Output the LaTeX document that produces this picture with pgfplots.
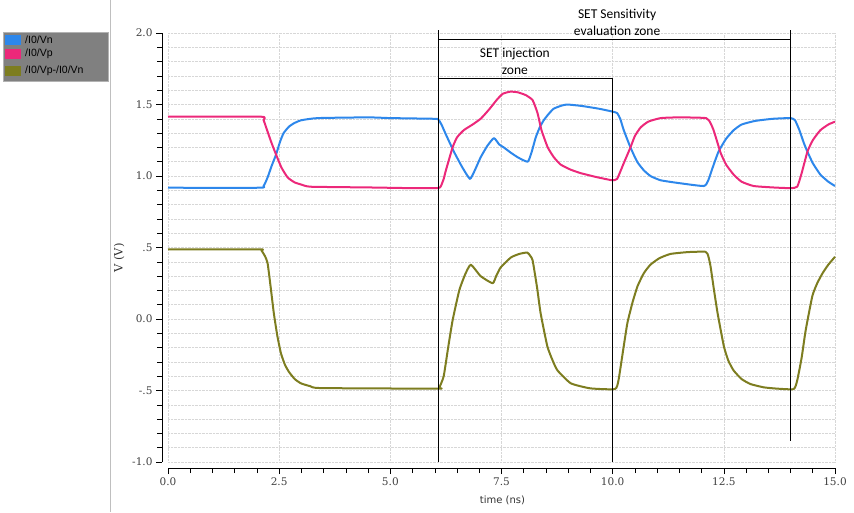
\documentclass[border=0pt]{standalone}
\usepackage{pgfplots}
\pgfplotsset{compat=1.18}
\usepackage{pgfplotstable}
\usepackage{fontspec}
\setmainfont{Carlito}
\newfontfamily\tickfont{DejaVu Serif}
\newfontfamily\legfont{Liberation Sans}
\newfontfamily\labfont{DejaVu Sans}
\definecolor{cvn}{RGB}{45,135,235}
\definecolor{cvp}{RGB}{236,40,122}
\definecolor{cdf}{RGB}{125,125,32}
\definecolor{gridc}{RGB}{215,215,215}

\pgfplotstableread{
t v
0 0.918
2.05 0.918
2.15 0.93
2.24 0.99
2.33 1.07
2.43 1.15
2.52 1.24
2.6 1.30
2.72 1.345
2.84 1.37
3.0 1.39
3.37 1.405
4.5 1.41
5.0 1.405
6.0 1.40
6.08 1.395
6.15 1.36
6.25 1.29
6.43 1.17
6.62 1.06
6.79 0.98
6.9 1.04
7.03 1.13
7.18 1.21
7.33 1.265
7.45 1.22
7.55 1.20
7.7 1.165
7.87 1.13
8.09 1.10
8.18 1.17
8.27 1.27
8.36 1.34
8.45 1.39
8.55 1.43
8.67 1.47
8.83 1.49
8.97 1.50
9.3 1.49
9.7 1.47
10.0 1.45
10.1 1.44
10.17 1.40
10.25 1.32
10.4 1.20
10.55 1.10
10.7 1.04
10.85 1.00
11.08 0.97
11.5 0.95
12.05 0.93
12.15 0.97
12.25 1.06
12.38 1.17
12.55 1.26
12.72 1.32
12.9 1.36
13.2 1.385
13.6 1.40
14.0 1.405
14.1 1.39
14.2 1.32
14.3 1.23
14.38 1.17
14.5 1.09
14.67 1.01
14.85 0.96
15.0 0.93
}\vn

\pgfplotstableread{
t v
0 1.415
2.08 1.415
2.15 1.39
2.24 1.31
2.33 1.23
2.43 1.15
2.55 1.06
2.69 0.99
2.85 0.955
3.0 0.94
3.21 0.925
4.5 0.92
5.5 0.915
6.05 0.915
6.13 0.925
6.2 0.98
6.25 1.04
6.4 1.20
6.5 1.27
6.65 1.32
6.85 1.36
7.03 1.40
7.15 1.44
7.26 1.48
7.4 1.535
7.53 1.575
7.7 1.59
7.87 1.585
8.05 1.565
8.2 1.53
8.31 1.44
8.4 1.32
8.54 1.20
8.68 1.13
8.83 1.08
9.05 1.045
9.28 1.02
9.6 0.995
9.9 0.975
10.0 0.97
10.1 0.98
10.25 1.09
10.4 1.20
10.5 1.28
10.63 1.34
10.8 1.38
11.08 1.405
11.5 1.41
12.1 1.405
12.2 1.37
12.27 1.32
12.35 1.24
12.43 1.16
12.55 1.08
12.72 1.01
12.9 0.96
13.17 0.93
13.6 0.92
14.0 0.915
14.15 0.925
14.25 1.02
14.38 1.17
14.5 1.25
14.67 1.32
14.85 1.36
15.0 1.38
}\vp

\pgfplotstableread{
t v
0 0.487
2.05 0.487
2.1 0.48
2.18 0.44
2.24 0.39
2.31 0.22
2.38 0.04
2.46 -0.12
2.54 -0.24
2.63 -0.32
2.72 -0.37
2.85 -0.42
2.99 -0.45
3.2 -0.47
3.44 -0.483
6.05 -0.487
6.1 -0.48
6.2 -0.40
6.3 -0.20
6.4 -0.01
6.55 0.20
6.68 0.31
6.81 0.38
7.03 0.30
7.3 0.25
7.38 0.30
7.48 0.36
7.71 0.43
7.9 0.455
8.08 0.465
8.15 0.44
8.2 0.41
8.3 0.22
8.38 0.04
8.53 -0.19
8.65 -0.29
8.76 -0.36
9.06 -0.45
9.5 -0.485
10.05 -0.49
10.13 -0.43
10.22 -0.25
10.33 -0.03
10.45 0.12
10.56 0.23
10.7 0.32
10.85 0.38
11.05 0.425
11.3 0.455
11.7 0.468
12.09 0.47
12.15 0.44
12.2 0.37
12.28 0.20
12.36 0.04
12.5 -0.19
12.6 -0.29
12.72 -0.36
12.9 -0.42
13.1 -0.455
13.4 -0.478
13.7 -0.487
14.07 -0.49
14.15 -0.43
14.25 -0.27
14.34 -0.08
14.49 0.16
14.6 0.25
14.72 0.32
14.85 0.38
15.0 0.435
}\vdf

\begin{document}
\begin{tikzpicture}
\useasboundingbox (0,0) rectangle (854pt,512pt);
\begin{axis}[
  at={(168pt,50pt)}, anchor=south west,
  scale only axis, width=667pt, height=429pt,
  xmin=0, xmax=15, ymin=-1, ymax=2,
  axis x line*=bottom, axis y line*=left,
  axis x line shift=6pt, axis y line shift=6pt,
  axis line style={black, line width=0.7pt},
  tick align=outside,
  major tick length=6pt, minor tick length=5pt,
  tick style={black, line width=0.6pt},
  xtick={0,2.5,5,7.5,10,12.5,15},
  xticklabels={0.0,2.5,5.0,7.5,10.0,12.5,15.0},
  minor x tick num=4,
  ytick={-1,-0.5,0,0.5,1,1.5,2},
  yticklabels={-1.0,-.5,0.0,.5,1.0,1.5,2.0},
  minor y tick num=4,
  ticklabel style={font=\tickfont\fontsize{10.5}{12}\selectfont, text=black!75},
  xmajorgrids, ymajorgrids, yminorgrids,
  major grid style={gridc, densely dotted, line width=0.6pt},
  minor grid style={gridc, densely dotted, line width=0.6pt},
  clip=false,
]
\addplot[cvn, line width=2pt, line join=round, smooth, tension=0.3] table[x=t,y=v] {\vn};
\addplot[cvp, line width=2pt, line join=round, smooth, tension=0.3] table[x=t,y=v] {\vp};
\addplot[cdf, line width=2pt, line join=round, smooth, tension=0.3] table[x=t,y=v] {\vdf};

\draw[black, line width=0.8pt] (axis cs:6.07,2.02) -- (axis cs:6.07,-1.0);
\draw[black, line width=0.8pt] (axis cs:10.0,1.685) -- (axis cs:10.0,-1.0);
\draw[black, line width=0.8pt] (axis cs:14.0,2.02) -- (axis cs:14.0,-0.85);
\draw[black, line width=0.8pt] (axis cs:6.07,1.958) -- (axis cs:14.0,1.958);
\draw[black, line width=0.8pt] (axis cs:6.07,1.685) -- (axis cs:10.0,1.685);
\node[font=\fontsize{13.5}{17}\selectfont, align=center, anchor=south, inner sep=1pt] at (axis cs:10.1,1.975) {SET Sensitivity\\evaluation zone};
\node[font=\fontsize{13.5}{17}\selectfont, align=center, anchor=south, inner sep=1pt] at (axis cs:7.8,1.70) {SET injection\\zone};

\node[font=\tickfont\fontsize{11.5}{13}\selectfont, text=black!80, rotate=90] at (axis description cs:-0.0734,0.4755) {V (V)};
\node[font=\labfont\fontsize{10}{12}\selectfont, text=black!80] at (axis description cs:0.5015,-0.0886) {time (ns)};
\end{axis}

% left legend panel
\draw[black!25, line width=1pt] (110pt,0pt) -- (110pt,512pt);
\fill[black!50] (3pt,431pt) rectangle (108pt,480pt);
\draw[black!30, line width=0.5pt] (3pt,431pt) rectangle (108pt,480pt);
\fill[cvn] (5pt,467pt) rectangle (21pt,477pt);
\fill[cvp] (5pt,453pt) rectangle (21pt,463pt);
\fill[cdf] (5pt,436pt) rectangle (21pt,446pt);
\node[anchor=west, font=\legfont\fontsize{10.5}{12}\selectfont, inner sep=0pt] at (25pt,472pt) {/I0/Vn};
\node[anchor=west, font=\legfont\fontsize{10.5}{12}\selectfont, inner sep=0pt] at (25pt,458pt) {/I0/Vp};
\node[anchor=west, font=\legfont\fontsize{10.5}{12}\selectfont, inner sep=0pt] at (25pt,441pt) {/I0/Vp-/I0/Vn};
\end{tikzpicture}
\end{document}
